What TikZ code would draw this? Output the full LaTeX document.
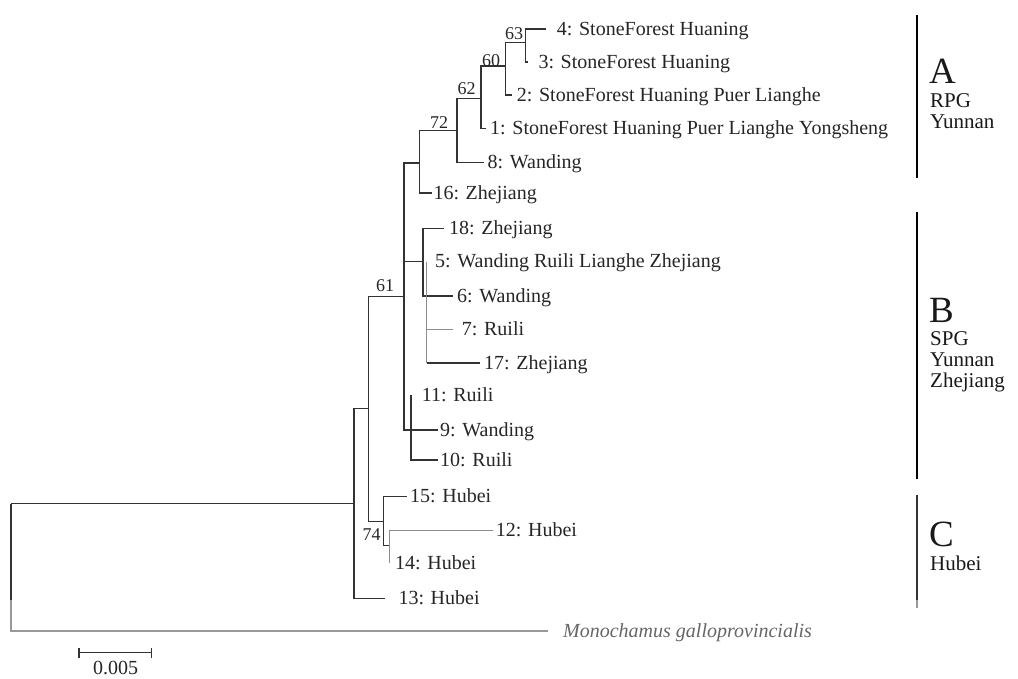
\documentclass[tikz,border=0pt]{standalone}
\usepackage{fontspec}
\setmainfont{Liberation Serif}
\begin{document}
\begin{tikzpicture}[x=1pt,y=-1pt,
  br/.style={draw=black!80, line width=1.3pt},
  gbr/.style={draw=black!45, line width=1.3pt},
  ogbr/.style={draw=black!40, line width=1.8pt},
  bar/.style={draw=black, line width=2.4pt},
  leaf/.style={anchor=base west, inner sep=0pt, font=\fontsize{20}{22}\selectfont, text=black!85},
  boot/.style={inner sep=0pt, font=\fontsize{18}{20}\selectfont, text=black!85},
  grp/.style={anchor=base west, inner sep=0pt, font=\fontsize{37}{40}\selectfont, text=black!90},
  grpsub/.style={anchor=base west, inner sep=0pt, font=\fontsize{21}{22}\selectfont, text=black!90}]
\fill[white] (0,0) rectangle (1018,678);
\useasboundingbox (0,0) rectangle (1018,678);

% internal nodes (x, stem y)
\coordinate (root) at (11,503.5);
\coordinate (rv)   at (11,600);
\coordinate (og)   at (548,631);
\coordinate (n354) at (354,503.5);
\coordinate (n61)  at (368.3,408.3);
\coordinate (n404) at (404,296.7);
\coordinate (n74)  at (383.3,521.7);
\coordinate (n389) at (389.3,545.7);
\coordinate (n419) at (419.3,163);
\coordinate (n423) at (423,261.7);
\coordinate (n427) at (426.7,261.7);
\coordinate (n411) at (411,430);
\coordinate (n457) at (457,130.7);
\coordinate (n481) at (481,98.3);
\coordinate (n505) at (505.7,66);
\coordinate (n525) at (525.7,42.7);

% leaf tips
\coordinate (t4)  at (545.7,29);
\coordinate (t3)  at (528,62);
\coordinate (t2)  at (511.7,95);
\coordinate (t1)  at (486,128.3);
\coordinate (t8)  at (484,162.7);
\coordinate (t16) at (431.7,193);
\coordinate (t18) at (444,228.5);
\coordinate (t5)  at (426.7,261.7);
\coordinate (t6)  at (453,296);
\coordinate (t7)  at (452.7,329.3);
\coordinate (t17) at (480,363);
\coordinate (t11) at (411,395);
\coordinate (t9)  at (438.3,430);
\coordinate (t10) at (438.3,460);
\coordinate (t15) at (406.7,496.7);
\coordinate (t12) at (493.3,530.7);
\coordinate (t14) at (389.3,563);
\coordinate (t13) at (385,598.3);

% branches
\draw[br] (root) -- (rv);
\draw[ogbr] (rv) |- (og);
\draw[br] (root) -- (n354);
\draw[br] (n354) |- (n61);
\draw[br] (n354) |- (t13);
\draw[br] (n61) |- (n404);
\draw[br] (n61) |- (n74);
\draw[br] (n404) |- (n419);
\draw[br] (n404) |- (n423);
\draw[br] (n404) |- (n411);
\draw[br] (n411) |- (t9);
\draw[br] (n411) |- (t11);
\draw[br] (n411) |- (t10);
\draw[br] (n419) |- (n457);
\draw[br] (n419) |- (t16);
\draw[br] (n457) |- (n481);
\draw[br] (n457) |- (t8);
\draw[br] (n481) |- (n505);
\draw[br] (n481) |- (t1);
\draw[br] (n505) |- (n525);
\draw[br] (n505) |- (t2);
\draw[br] (n525) |- (t4);
\draw[br] (n525) |- (t3);
\draw[br] (n423) |- (t18);
\draw[br] (n423) |- (t6);
\draw[gbr] (n427) -- (n427 |- t17);
\draw[gbr] (n427 |- t7) -- (t7);
\draw[br] (n427 |- t17) -- (t17);
\draw[br] (n74) |- (t15);
\draw[br] (n74) |- (n389);
\draw[gbr] (n389) |- (t12);
\draw[gbr] (n389) -- (t14);

% leaf labels
\node[leaf] (l4)  at (556.7,35)   {4: StoneForest Huaning};
\node[leaf] (l3)  at (538.3,68)   {3: StoneForest Huaning};
\node[leaf] (l2)  at (516.7,101)  {2: StoneForest Huaning Puer Lianghe};
\node[leaf] (l1)  at (490,134.3)  {1: StoneForest Huaning Puer Lianghe Yongsheng};
\node[leaf] (l8)  at (487.5,168.7){8: Wanding};
\node[leaf] (l16) at (433.3,199)  {16: Zhejiang};
\node[leaf] (l18) at (449,234.5)  {18: Zhejiang};
\node[leaf] (l5)  at (435,267.7)  {5: Wanding Ruili Lianghe Zhejiang};
\node[leaf] (l6)  at (457,302)    {6: Wanding};
\node[leaf] (l7)  at (461.7,335.3){7: Ruili};
\node[leaf] (l17) at (484,369)    {17: Zhejiang};
\node[leaf] (l11) at (421.7,401)  {11: Ruili};
\node[leaf] (l9)  at (440,436)    {9: Wanding};
\node[leaf] (l10) at (440,466)    {10: Ruili};
\node[leaf] (l15) at (410,502.7)  {15: Hubei};
\node[leaf] (l12) at (495.7,536.7){12: Hubei};
\node[leaf] (l14) at (395,569)    {14: Hubei};
\node[leaf] (l13) at (398.3,604.3){13: Hubei};
\node[leaf, text=black!60, font=\fontsize{20}{22}\selectfont\itshape] (log) at (563,637) {Monochamus galloprovincialis};

% bootstrap values
\node[boot] (b63) at (514,34)    {63};
\node[boot] (b60) at (491,60.5)  {60};
\node[boot] (b62) at (466.7,89)  {62};
\node[boot] (b72) at (439,123)   {72};
\node[boot] (b61) at (385,286)   {61};
\node[boot] (b74) at (371.7,535) {74};

% scale bar
\coordinate (sb1) at (79,652.7);
\coordinate (sb2) at (151.7,652.7);
\draw[br] (sb1) -- (sb2);
\draw[br] ([yshift=-5]sb1) -- ([yshift=5]sb1);
\draw[br] ([yshift=-5]sb2) -- ([yshift=5]sb2);
\node[anchor=base, inner sep=0pt, font=\fontsize{20}{22}\selectfont, text=black!85] (sbl) at (115.5,674) {0.005};

% group bars
\coordinate (a1) at (916.7,15);
\coordinate (a2) at (916.7,178);
\coordinate (b1) at (916.7,211.7);
\coordinate (b2) at (916.7,479.3);
\coordinate (c1) at (916.7,495);
\coordinate (c2) at (916.7,600);
\coordinate (c3) at (916.7,608);
\draw[bar] (a1) -- (a2);
\draw[bar] (b1) -- (b2);
\draw[bar, draw=black!80, line width=2pt] (c1) -- (c2);
\draw[bar, draw=black!40, line width=2pt] (c2) -- (c3);

\node[grp] (gA) at (929,83) {A};
\node[grpsub] (gA1) at (930,107) {RPG};
\node[grpsub] (gA2) at (930,128) {Yunnan};
\node[grp] (gB) at (929,322) {B};
\node[grpsub] (gB1) at (930,345) {SPG};
\node[grpsub] (gB2) at (930,366) {Yunnan};
\node[grpsub] (gB3) at (930,387) {Zhejiang};
\node[grp] (gC) at (929,546) {C};
\node[grpsub] (gC1) at (930,570) {Hubei};
\end{tikzpicture}
\end{document}
